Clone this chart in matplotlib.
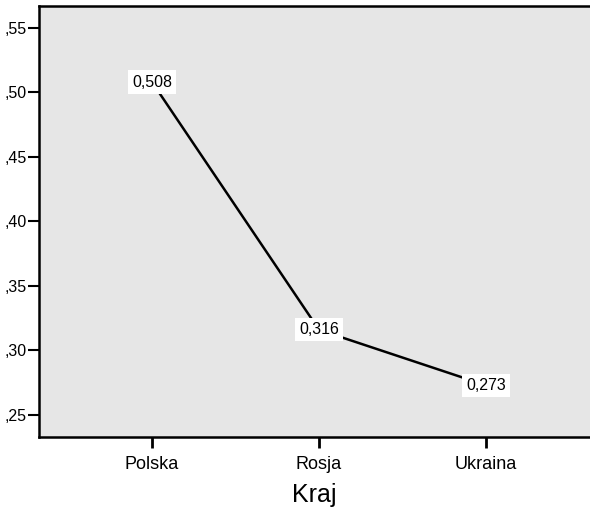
import matplotlib
matplotlib.use("Agg")
import matplotlib.pyplot as plt
from matplotlib.ticker import FuncFormatter

plt.rcParams['font.family'] = ['Liberation Sans', 'DejaVu Sans']

countries = ['Polska', 'Rosja', 'Ukraina']
means = [0.508, 0.316, 0.273]
yticks = [0.25, 0.30, 0.35, 0.40, 0.45, 0.50, 0.55]

fig = plt.figure(figsize=(5.9, 5.08), dpi=100)
ax = fig.add_axes([39 / 590, 1 - 436.5 / 508, 551 / 590, 430.5 / 508])
ax.set_facecolor('#e6e6e6')

x = list(range(len(countries)))
ax.plot(x, means, color='black', linewidth=1.8, zorder=2)
for xi, v in zip(x, means):
    label = ('%.3f' % v).replace('.', ',')
    ax.text(xi, v, label, ha='center', va='center', fontsize=11.5, zorder=3,
            bbox=dict(facecolor='white', edgecolor='none', pad=3))

ax.set_xlim(-0.677, 2.623)
ax.set_ylim(0.2333, 0.567)
ax.set_xticks(x)
ax.set_xticklabels(countries, fontsize=13)
ax.set_yticks(yticks)
ax.yaxis.set_major_formatter(FuncFormatter(lambda v, p: ('%.2f' % v)[1:].replace('.', ',')))
ax.tick_params(axis='y', labelsize=11.5, length=8, width=1.5, pad=1)
ax.tick_params(axis='x', length=8, width=2, pad=6)
ax.spines['right'].set_visible(False)
for s in ['left', 'bottom', 'top']:
    ax.spines[s].set_linewidth(1.8)
ax.set_xlabel('Kraj', fontsize=18, labelpad=7)

fig.savefig('out.png', dpi=100)
